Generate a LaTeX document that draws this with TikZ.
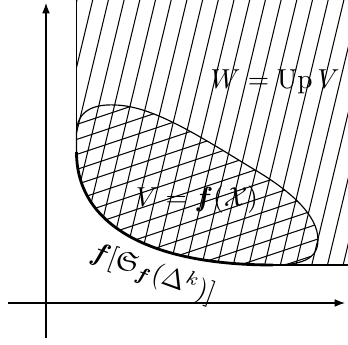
\documentclass[tikz,border=0pt]{standalone}
\usepackage{amsmath,amssymb}
\usetikzlibrary{arrows.meta}

\begin{document}
\begin{tikzpicture}[x=0.0137cm, y=0.0137cm,
  axis/.style={-{Latex[length=4pt,width=3pt]}, line width=0.45pt},
  hatch/.style={line width=0.4pt},
  bound/.style={line width=0.45pt},
  front/.style={line width=1.1pt},
  lbl/.style={scale=1.07, inner sep=1pt}
]
\useasboundingbox (0,0) rectangle (348,345);

%% Axes
\coordinate (xs) at (8,42);
\coordinate (xe) at (345,42);
\coordinate (ys) at (46,7);
\coordinate (ye) at (46,342);
\draw[axis] (xs) -- (xe);
\draw[axis] (ys) -- (ye);

%% Steep hatching of W = Up V
\begin{scope}
  \clip (76.5,345) -- (76.5,193) .. controls (76.5,120) and (150,80) .. (273,80)
        -- (348,80) -- (348,345) -- cycle;
  \foreach \k in {-1,...,20}
    \draw[hatch] (10+15.7*\k,0) -- (92.7+15.7*\k,345);
\end{scope}

%% Second family of lines inside V
\begin{scope}
  \clip (273,80) .. controls (150,80) and (76.5,120) .. (76.5,193) -- (76.5,212)
        .. controls (76.5,235) and (95,241) .. (115,240)
        .. controls (150,239) and (190,215) .. (250,178)
        .. controls (290,155) and (318,130) .. (318,105)
        .. controls (318,85) and (300,80) .. (273,80) -- cycle;
  \foreach \j in {0,...,17}
    \draw[hatch] (60,-10+15*\j) -- (348,86+15*\j);
\end{scope}

%% Boundaries
\draw[bound] (76.5,345) -- (76.5,193);
\draw[bound] (273,80) -- (348,80);
\draw[bound] (76.5,193) -- (76.5,212)
  .. controls (76.5,235) and (95,241) .. (115,240)
  .. controls (150,239) and (190,215) .. (250,178)
  .. controls (290,155) and (318,130) .. (318,105)
  .. controls (318,85) and (300,80) .. (273,80);
\draw[front] (76.5,193) .. controls (76.5,120) and (150,80) .. (273,80);

%% Labels
\node[lbl] (wlab) at (275,263) {$W = \operatorname{Up}V$};
\node[lbl] (vlab) at (197,145) {$V = \boldsymbol{f}(\mathcal{X})$};
\node[lbl, rotate=-20] (flab) at (153,72) {$\boldsymbol{f}[\mathfrak{S}_{\boldsymbol{f}}(\Delta^k)]$};
\end{tikzpicture}
\end{document}
